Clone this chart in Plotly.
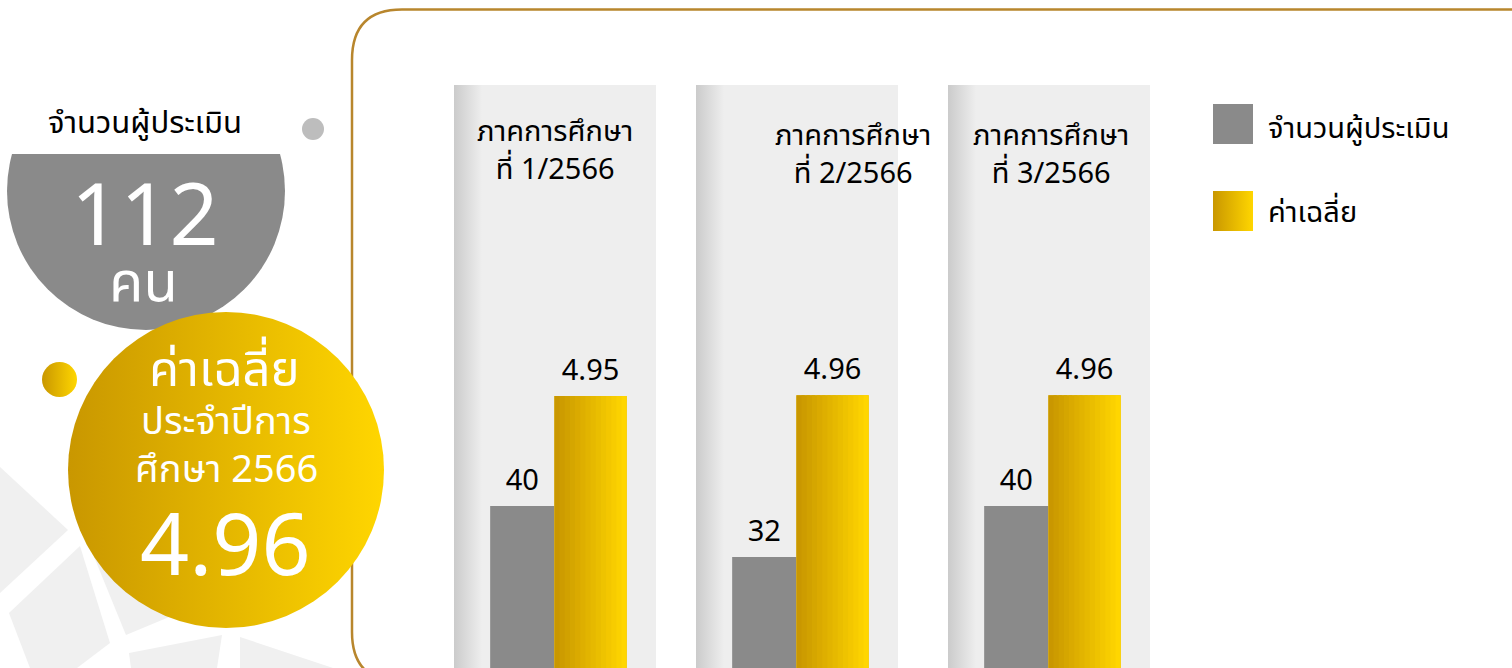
"""Assessment summary chart, academic year 2566"""
import base64

import plotly.graph_objects as go

W, H = 1512, 668

# Data
semesters = ["1/2566", "2/2566", "3/2566"]
respondents = [40, 32, 40]
mean_scores = [4.95, 4.96, 4.96]
total_respondents = 112
annual_mean = 4.96
series_names = ["จำนวนผู้ประเมิน", "ค่าเฉลี่ย"]
semester_prefix = "ภาคการศึกษา"

GRAY = "#8a8a8a"
GOLD_L = (0xC9, 0x97, 0x00)
GOLD_R = (0xFF, 0xD6, 0x00)
BORDER = "#b8862d"
FONT = "Noto Sans Thai, Noto Sans, sans-serif"


def px_x(x):
    return x / W


def px_y(y):
    return 1 - y / H


def gold_at(t):
    r, g, b = (round(a + (c - a) * t) for a, c in zip(GOLD_L, GOLD_R))
    return f"rgb({r},{g},{b})"


GOLD_DEF = ("<defs><linearGradient id='g' x1='0' y1='0' x2='1' y2='0'>"
            "<stop offset='0' stop-color='#c99700'/><stop offset='1' stop-color='#ffd600'/>"
            "</linearGradient></defs>")


def add_svg(fig, body, x0, y0, x1, y1, layer="above"):
    """Place an inline svg (used for gradients) on a pixel box of the page."""
    w, h = x1 - x0, y1 - y0
    svg = (f"<svg xmlns='http://www.w3.org/2000/svg' width='{w}' height='{h}' "
           f"viewBox='0 0 {w} {h}' preserveAspectRatio='none'>{body}</svg>")
    src = "data:image/svg+xml;base64," + base64.b64encode(svg.encode()).decode()
    fig.add_layout_image(source=src, xref="paper", yref="paper", x=px_x(x0), y=px_y(y0),
                         sizex=w / W, sizey=h / H, xanchor="left", yanchor="top",
                         sizing="stretch", layer=layer)


def poly_path(pts):
    return "M " + " L ".join(f"{px_x(x):.5f},{px_y(y):.5f}" for x, y in pts) + " Z"


def add_text(fig, text, x, y, size, color="black", xanchor="center", weight=None):
    font = dict(family=FONT, size=size, color=color)
    if weight:
        font["weight"] = weight
    fig.add_annotation(text=text, x=px_x(x), y=px_y(y), xref="paper", yref="paper",
                       xanchor=xanchor, yanchor="middle", showarrow=False, font=font)


fig = go.Figure()

# Bars: one small subplot per semester, count on the left axis, mean on an overlaid one
panel_left = [454, 696, 948]
panel_w = 202
title_shift = [0, 56, 2]
title_y = [151, 155, 155]
gray_offset, gray_width = -0.321, 0.318
gold_offset, gold_width = -0.003, 0.358
n_slices = 14
text_font = dict(family=FONT, size=29, color="black")

for i, (sem, n, m) in enumerate(zip(semesters, respondents, mean_scores)):
    k = i + 1
    xa = "x" if k == 1 else f"x{k}"
    ya = "y" if k == 1 else f"y{k}"
    yg = f"y{k + 3}"

    fig.add_trace(go.Bar(x=[sem], y=[n], xaxis=xa, yaxis=ya, name=series_names[0],
                         offset=gray_offset, width=gray_width,
                         marker=dict(color=GRAY, line_width=0),
                         text=[str(n)], textposition="outside", textfont=text_font,
                         showlegend=False))
    fig.add_trace(go.Bar(x=[sem], y=[m], xaxis=xa, yaxis=yg, name=series_names[1],
                         offset=gold_offset, width=gold_width,
                         marker=dict(color=gold_at(0.5), line_width=0),
                         text=[f"{m:.2f}"], textposition="outside", textfont=text_font,
                         showlegend=False))
    # horizontal gold gradient made from thin overlaid slices of the same bar
    step = gold_width / n_slices
    for j in range(n_slices):
        fig.add_trace(go.Bar(x=[sem], y=[m], xaxis=xa, yaxis=yg,
                             offset=gold_offset + j * step,
                             width=min(step * 1.6, gold_width - j * step),
                             marker=dict(color=gold_at(j / (n_slices - 1)), line_width=0),
                             hoverinfo="skip", showlegend=False))

    p = panel_left[i]
    fig.layout[f"xaxis{k if k > 1 else ''}"] = dict(
        domain=[px_x(p), px_x(p + panel_w)], anchor=ya, type="category",
        range=[-0.5, 0.5], visible=False, fixedrange=True)
    fig.layout[f"yaxis{k if k > 1 else ''}"] = dict(
        domain=[0, px_y(85)], anchor=xa, range=[14.6, 106.0], visible=False, fixedrange=True)
    fig.layout[f"yaxis{k + 3}"] = dict(
        overlaying=ya, anchor=xa, range=[1.26, 9.17], visible=False, fixedrange=True)

    # soft shading on the left edge of each panel
    add_svg(fig, "<defs><linearGradient id='s' x1='0' y1='0' x2='1' y2='0'>"
                 "<stop offset='0' stop-color='#cbcbcb'/><stop offset='1' stop-color='#eeeeee'/>"
                 "</linearGradient></defs><rect width='100%' height='100%' fill='url(#s)'/>",
            p, 85, p + 28, 668, layer="below")

    add_text(fig, f"{semester_prefix}<br>ที่ {sem}", p + panel_w / 2 + title_shift[i],
             title_y[i], 29)

# Background tiles at the lower left
tiles = [
    [(0, 467), (68, 530), (0, 593)],
    [(9, 613), (80, 546), (110, 643), (77, 668), (30, 668)],
    [(88, 542), (160, 480), (210, 600), (126, 635)],
    [(129, 653), (222, 635), (217, 668), (131, 668)],
    [(240, 637), (333, 668), (240, 668)],
]
for t in tiles:
    fig.add_shape(type="path", path=poly_path(t), xref="paper", yref="paper",
                  fillcolor="#f0f0f0", line_width=0, layer="below")

# Rounded frame around the bars
x, y = px_x, px_y
frame = (f"M {x(480)},{y(682)} L {x(402)},{y(682)} Q {x(352)},{y(682)} {x(352)},{y(632)} "
         f"L {x(352)},{y(60)} Q {x(352)},{y(9.5)} {x(402)},{y(9.5)} L {x(1530)},{y(9.5)}")
fig.add_shape(type="path", path=frame, xref="paper", yref="paper",
              line=dict(color=BORDER, width=2.5), layer="below")

# Left-hand summary badges
fig.add_shape(type="circle", xref="paper", yref="paper", x0=px_x(302), x1=px_x(324),
              y0=px_y(140), y1=px_y(118), fillcolor="#bdbdbd", line_width=0)
add_svg(fig, f"<circle cx='139' cy='37' r='139' fill='{GRAY}'/>", 7, 154, 285, 330)
add_svg(fig, GOLD_DEF + "<ellipse cx='50%' cy='50%' rx='50%' ry='50%' fill='url(#g)'/>",
        68, 312, 384, 628)
add_svg(fig, GOLD_DEF + "<ellipse cx='50%' cy='50%' rx='50%' ry='50%' fill='url(#g)'/>",
        42, 362, 77, 397)

add_text(fig, series_names[0], 145, 123, 31)
add_text(fig, str(total_respondents), 145, 219, 86, "white")
add_text(fig, "คน", 143, 284, 56, "white")
add_text(fig, series_names[1], 224, 371, 49, "white")
add_text(fig, "ประจำปีการ", 226, 422, 38, "white")
add_text(fig, "ศึกษา 2566", 226, 470, 38, "white")
add_text(fig, f"{annual_mean:.2f}", 225, 549, 86, "white")

# Legend
fig.add_shape(type="rect", xref="paper", yref="paper", x0=px_x(1213), x1=px_x(1253),
              y0=px_y(144), y1=px_y(104), fillcolor=GRAY, line_width=0)
add_svg(fig, GOLD_DEF + "<rect width='100%' height='100%' fill='url(#g)'/>",
        1213, 191, 1253, 231)
add_text(fig, series_names[0], 1266, 129, 29, xanchor="left")
add_text(fig, series_names[1], 1266, 213, 29, xanchor="left")

fig.update_layout(
    template="none",
    width=W, height=H,
    margin=dict(l=0, r=0, t=0, b=0),
    barmode="overlay",
    paper_bgcolor="white",
    plot_bgcolor="#eeeeee",
    showlegend=False,
    font=dict(family=FONT),
)

fig.write_html("out.html", config={"displayModeBar": False},
               post_script="document.body.style.margin='0';document.body.style.overflow='hidden';")
